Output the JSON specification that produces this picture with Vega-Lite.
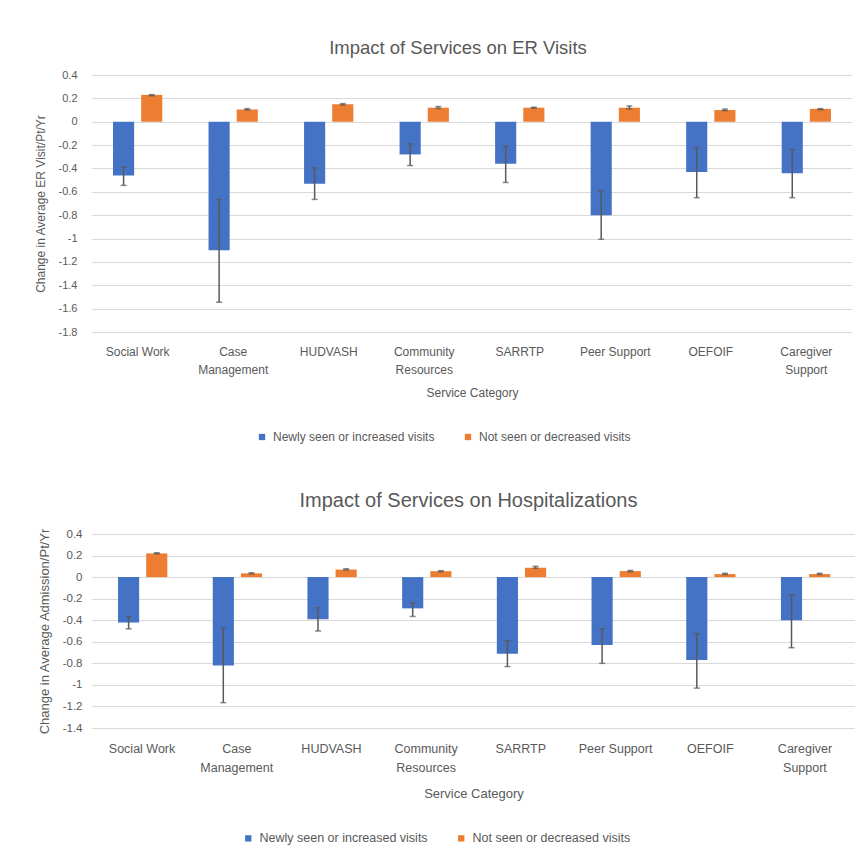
{
  "$schema": "https://vega.github.io/schema/vega-lite/v6.json",
  "padding": {"left": 34, "top": 38, "right": 0, "bottom": 0},
  "background": "white",
  "spacing": 48,
  "datasets": {
    "er": [
      {"category": "Social Work", "series": "Newly seen or increased visits", "value": -0.46, "lo": -0.545, "hi": -0.39},
      {"category": "Social Work", "series": "Not seen or decreased visits", "value": 0.23, "lo": 0.222, "hi": 0.232},
      {"category": "Case Management", "series": "Newly seen or increased visits", "value": -1.10, "lo": -1.545, "hi": -0.665},
      {"category": "Case Management", "series": "Not seen or decreased visits", "value": 0.105, "lo": 0.1, "hi": 0.112},
      {"category": "HUDVASH", "series": "Newly seen or increased visits", "value": -0.53, "lo": -0.665, "hi": -0.395},
      {"category": "HUDVASH", "series": "Not seen or decreased visits", "value": 0.15, "lo": 0.143, "hi": 0.155},
      {"category": "Community Resources", "series": "Newly seen or increased visits", "value": -0.28, "lo": -0.375, "hi": -0.19},
      {"category": "Community Resources", "series": "Not seen or decreased visits", "value": 0.12, "lo": 0.113, "hi": 0.13},
      {"category": "SARRTP", "series": "Newly seen or increased visits", "value": -0.36, "lo": -0.52, "hi": -0.21},
      {"category": "SARRTP", "series": "Not seen or decreased visits", "value": 0.12, "lo": 0.116, "hi": 0.124},
      {"category": "Peer Support", "series": "Newly seen or increased visits", "value": -0.80, "lo": -1.005, "hi": -0.59},
      {"category": "Peer Support", "series": "Not seen or decreased visits", "value": 0.12, "lo": 0.11, "hi": 0.135},
      {"category": "OEFOIF", "series": "Newly seen or increased visits", "value": -0.43, "lo": -0.65, "hi": -0.22},
      {"category": "OEFOIF", "series": "Not seen or decreased visits", "value": 0.10, "lo": 0.095, "hi": 0.108},
      {"category": "Caregiver Support", "series": "Newly seen or increased visits", "value": -0.44, "lo": -0.65, "hi": -0.24},
      {"category": "Caregiver Support", "series": "Not seen or decreased visits", "value": 0.11, "lo": 0.103, "hi": 0.112}
    ],
    "hosp": [
      {"category": "Social Work", "series": "Newly seen or increased visits", "value": -0.42, "lo": -0.48, "hi": -0.365},
      {"category": "Social Work", "series": "Not seen or decreased visits", "value": 0.22, "lo": 0.216, "hi": 0.226},
      {"category": "Case Management", "series": "Newly seen or increased visits", "value": -0.82, "lo": -1.165, "hi": -0.475},
      {"category": "Case Management", "series": "Not seen or decreased visits", "value": 0.035, "lo": 0.03, "hi": 0.04},
      {"category": "HUDVASH", "series": "Newly seen or increased visits", "value": -0.39, "lo": -0.5, "hi": -0.285},
      {"category": "HUDVASH", "series": "Not seen or decreased visits", "value": 0.07, "lo": 0.065, "hi": 0.078},
      {"category": "Community Resources", "series": "Newly seen or increased visits", "value": -0.29, "lo": -0.365, "hi": -0.24},
      {"category": "Community Resources", "series": "Not seen or decreased visits", "value": 0.055, "lo": 0.05, "hi": 0.06},
      {"category": "SARRTP", "series": "Newly seen or increased visits", "value": -0.71, "lo": -0.83, "hi": -0.59},
      {"category": "SARRTP", "series": "Not seen or decreased visits", "value": 0.087, "lo": 0.082, "hi": 0.1},
      {"category": "Peer Support", "series": "Newly seen or increased visits", "value": -0.63, "lo": -0.8, "hi": -0.48},
      {"category": "Peer Support", "series": "Not seen or decreased visits", "value": 0.056, "lo": 0.05, "hi": 0.062},
      {"category": "OEFOIF", "series": "Newly seen or increased visits", "value": -0.77, "lo": -1.03, "hi": -0.525},
      {"category": "OEFOIF", "series": "Not seen or decreased visits", "value": 0.028, "lo": 0.024, "hi": 0.035},
      {"category": "Caregiver Support", "series": "Newly seen or increased visits", "value": -0.40, "lo": -0.655, "hi": -0.165},
      {"category": "Caregiver Support", "series": "Not seen or decreased visits", "value": 0.028, "lo": 0.024, "hi": 0.035}
    ]
  },
  "config": {
    "font": "Liberation Sans",
    "view": {"stroke": null},
    "title": {"fontSize": 18, "fontWeight": "normal", "color": "#595959", "offset": 18},
    "axis": {
      "labelColor": "#595959", "titleColor": "#595959",
      "labelFontSize": 11, "titleFontSize": 12, "titleFontWeight": "normal",
      "gridColor": "#d9d9d9", "gridWidth": 1, "domain": false, "ticks": false, "labelOverlap": false
    },
    "legend": {
      "labelColor": "#595959", "labelFontSize": 12, "labelLimit": 400, "padding": 0
    }
  },
  "resolve": {"legend": {"color": "independent"}},
  "vconcat": [
    {
      "title": {"text": "Impact of Services on ER Visits", "fontSize": 18.5, "dx": -14, "offset": 12},
      "width": 760, "height": 257,
      "data": {"name": "er"},
      "encoding": {
        "x": {
          "field": "category", "type": "nominal",
          "sort": ["Social Work", "Case Management", "HUDVASH", "Community Resources", "SARRTP", "Peer Support", "OEFOIF", "Caregiver Support"],
          "scale": {"paddingInner": 0.484, "paddingOuter": 0.22},
          "axis": {
            "labelAngle": 0, "title": "Service Category", "labelPadding": 14, "titlePadding": 12, "grid": false,
            "labelFontSize": 12, "labelLineHeight": 18,
            "labelExpr": "datum.label == 'Case Management' ? ['Case','Management'] : datum.label == 'Community Resources' ? ['Community','Resources'] : datum.label == 'Caregiver Support' ? ['Caregiver','Support'] : datum.label"
          }
        },
        "xOffset": {"field": "series", "type": "nominal", "sort": ["Newly seen or increased visits", "Not seen or decreased visits"], "scale": {"paddingInner": 0.25}},
        "color": {
          "field": "series", "type": "nominal",
          "scale": {"domain": ["Newly seen or increased visits", "Not seen or decreased visits"], "range": ["#4472C4", "#ED7D31"]},
          "legend": {"title": null, "orient": "none", "legendX": 164, "legendY": 356, "direction": "horizontal", "symbolType": "square", "symbolSize": 40, "symbolStrokeWidth": 0, "columnPadding": 27, "labelOffset": 5}
        }
      },
      "layer": [
        {
          "mark": {"type": "bar"},
          "encoding": {
            "y": {
              "field": "value", "type": "quantitative",
              "scale": {"domain": [-1.8, 0.4], "nice": false, "zero": false},
              "axis": {
                "title": "Change in Average ER Visit/Pt/Yr", "grid": true, "labelPadding": 15, "titlePadding": 11, "labelOverlap": false,
                "values": [0.4, 0.2, 0, -0.2, -0.4, -0.6, -0.8, -1, -1.2, -1.4, -1.6, -1.8],
                "labelExpr": "'' + round(datum.value*10)/10"
              }
            }
          }
        },
        {
          "mark": {"type": "rule", "strokeWidth": 1.5},
          "encoding": {
            "y": {
              "field": "lo", "type": "quantitative",
              "axis": {
                "title": "Change in Average ER Visit/Pt/Yr", "grid": true, "labelPadding": 15, "titlePadding": 11, "labelOverlap": false,
                "values": [0.4, 0.2, 0, -0.2, -0.4, -0.6, -0.8, -1, -1.2, -1.4, -1.6, -1.8],
                "labelExpr": "'' + round(datum.value*10)/10"
              }
            },
            "y2": {"field": "hi"}, "color": {"value": "#595959"}
          }
        },
        {
          "mark": {"type": "tick", "size": 6, "thickness": 1.5},
          "encoding": {
            "y": {
              "field": "lo", "type": "quantitative",
              "axis": {
                "title": "Change in Average ER Visit/Pt/Yr", "grid": true, "labelPadding": 15, "titlePadding": 11, "labelOverlap": false,
                "values": [0.4, 0.2, 0, -0.2, -0.4, -0.6, -0.8, -1, -1.2, -1.4, -1.6, -1.8],
                "labelExpr": "'' + round(datum.value*10)/10"
              }
            },
            "color": {"value": "#595959"}
          }
        },
        {
          "mark": {"type": "tick", "size": 6, "thickness": 1.5},
          "encoding": {
            "y": {
              "field": "hi", "type": "quantitative",
              "axis": {
                "title": "Change in Average ER Visit/Pt/Yr", "grid": true, "labelPadding": 15, "titlePadding": 11, "labelOverlap": false,
                "values": [0.4, 0.2, 0, -0.2, -0.4, -0.6, -0.8, -1, -1.2, -1.4, -1.6, -1.8],
                "labelExpr": "'' + round(datum.value*10)/10"
              }
            },
            "color": {"value": "#595959"}
          }
        }
      ]
    },
    {
      "title": {"text": "Impact of Services on Hospitalizations", "offset": 16, "fontSize": 20, "dx": -5},
      "width": 763, "height": 194,
      "data": {"name": "hosp"},
      "encoding": {
        "x": {
          "field": "category", "type": "nominal",
          "sort": ["Social Work", "Case Management", "HUDVASH", "Community Resources", "SARRTP", "Peer Support", "OEFOIF", "Caregiver Support"],
          "scale": {"paddingInner": 0.493, "paddingOuter": 0.275},
          "axis": {
            "labelAngle": 0, "title": "Service Category", "labelPadding": 14, "titlePadding": 14, "grid": false,
            "labelFontSize": 12.5, "labelLineHeight": 19, "titleFontSize": 13,
            "labelExpr": "datum.label == 'Case Management' ? ['Case','Management'] : datum.label == 'Community Resources' ? ['Community','Resources'] : datum.label == 'Caregiver Support' ? ['Caregiver','Support'] : datum.label"
          }
        },
        "xOffset": {"field": "series", "type": "nominal", "sort": ["Newly seen or increased visits", "Not seen or decreased visits"], "scale": {"paddingInner": 0.25}},
        "color": {
          "field": "series", "type": "nominal",
          "scale": {"domain": ["Newly seen or increased visits", "Not seen or decreased visits"], "range": ["#4472C4", "#ED7D31"]},
          "legend": {"title": null, "orient": "none", "legendX": 150, "legendY": 298, "direction": "horizontal", "symbolType": "square", "symbolSize": 40, "symbolStrokeWidth": 0, "columnPadding": 27, "labelOffset": 5, "labelFontSize": 12.5}
        }
      },
      "layer": [
        {
          "mark": {"type": "bar"},
          "encoding": {
            "y": {
              "field": "value", "type": "quantitative",
              "scale": {"domain": [-1.4, 0.4], "nice": false, "zero": false},
              "axis": {
                "title": "Change in Average Admission/Pt/Yr", "grid": true, "labelPadding": 10, "titlePadding": 11, "titleFontSize": 13, "labelFontSize": 11.5, "labelOverlap": false,
                "values": [0.4, 0.2, 0, -0.2, -0.4, -0.6, -0.8, -1, -1.2, -1.4],
                "labelExpr": "'' + round(datum.value*10)/10"
              }
            }
          }
        },
        {
          "mark": {"type": "rule", "strokeWidth": 1.5},
          "encoding": {
            "y": {
              "field": "lo", "type": "quantitative",
              "axis": {
                "title": "Change in Average Admission/Pt/Yr", "grid": true, "labelPadding": 10, "titlePadding": 11, "titleFontSize": 13, "labelFontSize": 11.5, "labelOverlap": false,
                "values": [0.4, 0.2, 0, -0.2, -0.4, -0.6, -0.8, -1, -1.2, -1.4],
                "labelExpr": "'' + round(datum.value*10)/10"
              }
            },
            "y2": {"field": "hi"}, "color": {"value": "#595959"}
          }
        },
        {
          "mark": {"type": "tick", "size": 6, "thickness": 1.5},
          "encoding": {
            "y": {
              "field": "lo", "type": "quantitative",
              "axis": {
                "title": "Change in Average Admission/Pt/Yr", "grid": true, "labelPadding": 10, "titlePadding": 11, "titleFontSize": 13, "labelFontSize": 11.5, "labelOverlap": false,
                "values": [0.4, 0.2, 0, -0.2, -0.4, -0.6, -0.8, -1, -1.2, -1.4],
                "labelExpr": "'' + round(datum.value*10)/10"
              }
            },
            "color": {"value": "#595959"}
          }
        },
        {
          "mark": {"type": "tick", "size": 6, "thickness": 1.5},
          "encoding": {
            "y": {
              "field": "hi", "type": "quantitative",
              "axis": {
                "title": "Change in Average Admission/Pt/Yr", "grid": true, "labelPadding": 10, "titlePadding": 11, "titleFontSize": 13, "labelFontSize": 11.5, "labelOverlap": false,
                "values": [0.4, 0.2, 0, -0.2, -0.4, -0.6, -0.8, -1, -1.2, -1.4],
                "labelExpr": "'' + round(datum.value*10)/10"
              }
            },
            "color": {"value": "#595959"}
          }
        }
      ]
    }
  ]
}
